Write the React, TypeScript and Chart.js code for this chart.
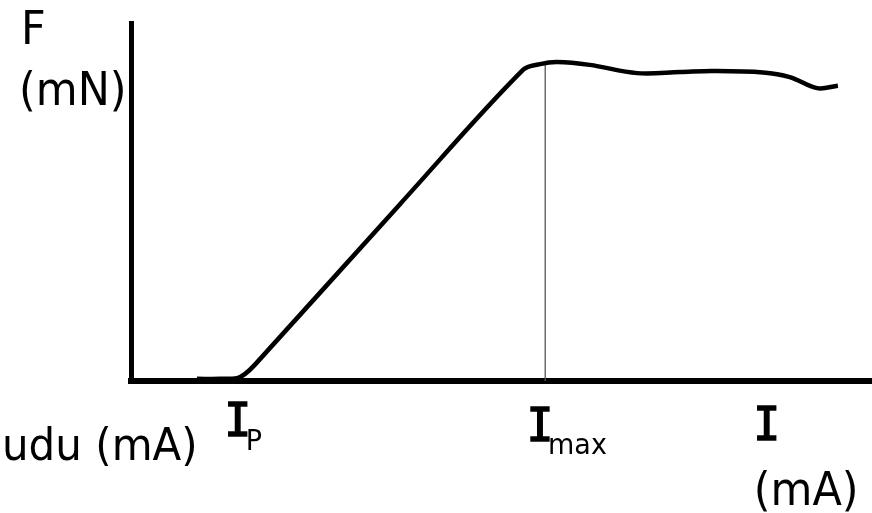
import React, { useEffect, useRef } from "react";
import { Chart, registerables } from "chart.js";

Chart.register(...registerables);

// Force F (mN) versus current I (mA), arbitrary units on both axes
const currentMA = [8.9, 12.0, 14.3, 15.4, 16.7, 36.3, 52.9, 55.2, 57.5, 61.9, 68.3, 74.1, 78.5, 85.3, 88.9, 92.6, 95.4];
const forceMN = [0.6, 0.6, 0.8, 2.0, 4.5, 49.4, 86.9, 88.5, 89.1, 88.3, 86.0, 86.3, 86.6, 86.2, 84.9, 81.8, 82.5];

// Current at maximum force and its force value (marker line)
const iMax = 55.9;
const fAtIMax = 88.7;

// Axis label anchors along the current axis
const labelIP = 14.4;
const labelIMax = 55.2;
const labelI = 85.8;

const xMin = 0;
const xMax = 100;
const yMin = 0;
const yMax = 100;

const FONT = "'DejaVu Sans', Verdana, sans-serif";
const SLAB = "'DejaVu Sans Mono', monospace";
const STRETCH = 1.06;

function drawText(
  ctx: CanvasRenderingContext2D,
  text: string,
  x: number,
  baseline: number,
  size: number,
  family: string,
  align: CanvasTextAlign = "left",
  outline = 0
) {
  ctx.save();
  ctx.translate(x, baseline);
  ctx.scale(1, STRETCH);
  ctx.font = `${size}px ${family}`;
  ctx.textAlign = align;
  ctx.textBaseline = "alphabetic";
  ctx.fillStyle = "#000";
  ctx.fillText(text, 0, 0);
  if (outline > 0) {
    ctx.strokeStyle = "#000";
    ctx.lineWidth = outline;
    ctx.lineJoin = "miter";
    ctx.strokeText(text, 0, 0);
  }
  ctx.restore();
}

const labelsPlugin = {
  id: "axisLabels",
  afterDraw(chart: any) {
    const ctx: CanvasRenderingContext2D = chart.ctx;
    const xs = chart.scales.x;
    const bottom = chart.chartArea.bottom;

    // y axis title
    drawText(ctx, "F", 21, 44, 43, FONT);
    drawText(ctx, "(mN)", 19, 105, 43, FONT);

    // x axis annotations
    drawText(ctx, "udu (mA)", 2, bottom + 79, 42, FONT);

    const pIP = xs.getPixelForValue(labelIP);
    drawText(ctx, "I", pIP, bottom + 55, 44, SLAB, "center", 1.6);
    drawText(ctx, "P", pIP + 8, bottom + 69, 27, FONT, "left");

    const pMax = xs.getPixelForValue(labelIMax);
    drawText(ctx, "I", pMax, bottom + 60, 44, SLAB, "center", 1.6);
    drawText(ctx, "max", pMax + 8, bottom + 73, 27, FONT, "left");

    const pI = xs.getPixelForValue(labelI);
    drawText(ctx, "I", pI, bottom + 59, 44, SLAB, "center", 1.6);
    drawText(ctx, "(mA)", pI - 13, bottom + 124, 43, FONT, "left");
  },
};

export default function App() {
  const ref = useRef<HTMLCanvasElement>(null);

  useEffect(() => {
    document.body.style.margin = "0";
    const canvas = ref.current!;
    const chart = new Chart(canvas, {
      type: "line",
      data: {
        datasets: [
          {
            data: currentMA.map((x, i) => ({ x, y: forceMN[i] })),
            borderColor: "#000",
            borderWidth: 4.5,
            pointRadius: 0,
            tension: 0.35,
            fill: false,
          },
          {
            data: [
              { x: iMax, y: yMin },
              { x: iMax, y: fAtIMax },
            ],
            borderColor: "#555",
            borderWidth: 1.3,
            pointRadius: 0,
            tension: 0,
            fill: false,
          },
        ],
      },
      options: {
        responsive: false,
        animation: false,
        events: [],
        layout: { padding: { left: 131, top: 23, right: 0, bottom: 132 } },
        plugins: { legend: { display: false }, tooltip: { enabled: false } },
        scales: {
          x: {
            type: "linear",
            min: xMin,
            max: xMax,
            ticks: { display: false },
            grid: { display: false },
            border: { display: true, color: "#000", width: 6 },
            afterFit: (s: any) => {
              s.height = 0;
            },
          },
          y: {
            type: "linear",
            min: yMin,
            max: yMax,
            ticks: { display: false },
            grid: { display: false },
            border: { display: true, color: "#000", width: 5 },
            afterFit: (s: any) => {
              s.width = 0;
            },
          },
        },
      },
      plugins: [labelsPlugin],
    });
    return () => chart.destroy();
  }, []);

  return (
    <div style={{ position: "fixed", left: 0, top: 0, width: 872, height: 513, background: "#fff" }}>
      <canvas ref={ref} width={872} height={513} />
    </div>
  );
}
